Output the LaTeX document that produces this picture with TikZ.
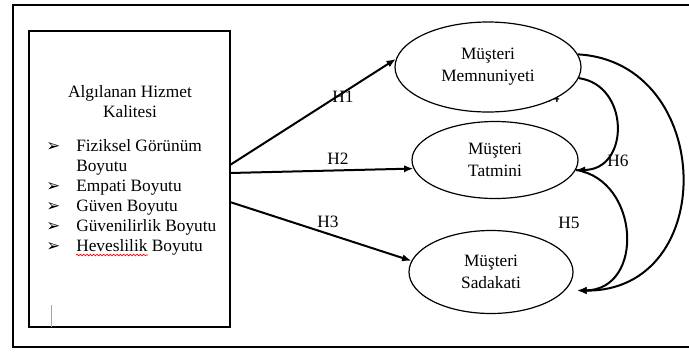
\documentclass[tikz,border=0pt]{standalone}
\usepackage{fontspec}
\setmainfont{Liberation Serif}
\newfontfamily\dingfont{DejaVu Sans}
\usetikzlibrary{arrows.meta,positioning,calc,shapes.geometric,decorations.pathmorphing}
\newcommand{\fsz}{\fontsize{13}{16.5}\selectfont}

\begin{document}
\begin{tikzpicture}[x=0.75pt,y=-0.75pt,
ell/.style={ellipse,draw,line width=0.9pt,fill=white,inner sep=0pt,align=center,font=\fsz},
arc/.style={-{Latex[length=7pt,width=5.5pt]},line width=1.5pt},
lbl/.style={font=\fsz,inner sep=0pt},
item/.style={font=\fsz,anchor=base west,inner sep=0pt},
bul/.style={font=\dingfont\fontsize{12.5}{12.5}\selectfont,anchor=base west,inner sep=0pt}]
\useasboundingbox (0,0) rectangle (689,351);
% outer frame
\draw[line width=1.2pt] (690,5) -- (13,5) -- (13,347) -- (690,347);
% quality box
\node[draw,line width=1.4pt,minimum width=150.75pt,minimum height=222pt] (kal) at (129.5,179) {};
\node[lbl,align=center,font=\fontsize{13}{15}\selectfont] (ttl) at (130,102) {Algılanan Hizmet\\Kalitesi};
\foreach \yy in {151,191,211,231,251}
  \node[bul] (b\yy) at (46,\yy) {➢};
\node[item] (i1) at (76,151) {Fiziksel Görünüm};
\node[item] (i1b) at (76,171) {Boyutu};
\node[item] (i2) at (76,191) {Empati Boyutu};
\node[item] (i3) at (76,211) {Güven Boyutu};
\node[item] (i4) at (76,231) {Güvenilirlik Boyutu};
\node[item] (i5) at (76,251) {Heveslilik Boyutu};
\draw[red,line width=0.5pt,decorate,decoration={snake,amplitude=0.6pt,segment length=2.5pt}] (76,255) -- (148,255);
\draw[gray!70,line width=0.4pt] (51,305) -- (51,327);
% hidden label
\node[lbl,anchor=base] (h4) at (549,102) {H4};
% constructs
\node[ell,minimum width=139.5pt,minimum height=67.5pt] (mem) at (488,67) {Müşteri\\Memnuniyeti};
\node[ell,minimum width=124.5pt,minimum height=57.75pt] (tat) at (495,160) {Müşteri\\Tatmini};
\node[ell,minimum width=123pt,minimum height=62.25pt] (sad) at (491,272) {Müşteri\\Sadakati};
% hypotheses
\coordinate (s1) at (230,165);
\coordinate (s2) at (230,173);
\coordinate (s3) at (230,202);
\draw[arc] (s1) -- (mem.175);
\draw[arc] (s2) -- (tat.186);
\draw[arc] (s3) -- (sad.172);
\node[lbl] (h1) at (343,97) {H1};
\node[lbl] (h2) at (338,159) {H2};
\node[lbl] (h3) at (328,222) {H3};
\draw[arc] (mem.-7) .. controls (630,85) and (630,170) .. (tat.-7);
\draw[arc] (tat.-7) .. controls (640,180) and (645,290) .. ([xshift=9pt]sad.-14);
\draw[arc] (mem.8) .. controls (715,62) and (720,292) .. ([xshift=9pt]sad.-14);
\node[lbl] (h6) at (618,161) {H6};
\node[lbl] (h5) at (569,223) {H5};
\end{tikzpicture}
\end{document}
